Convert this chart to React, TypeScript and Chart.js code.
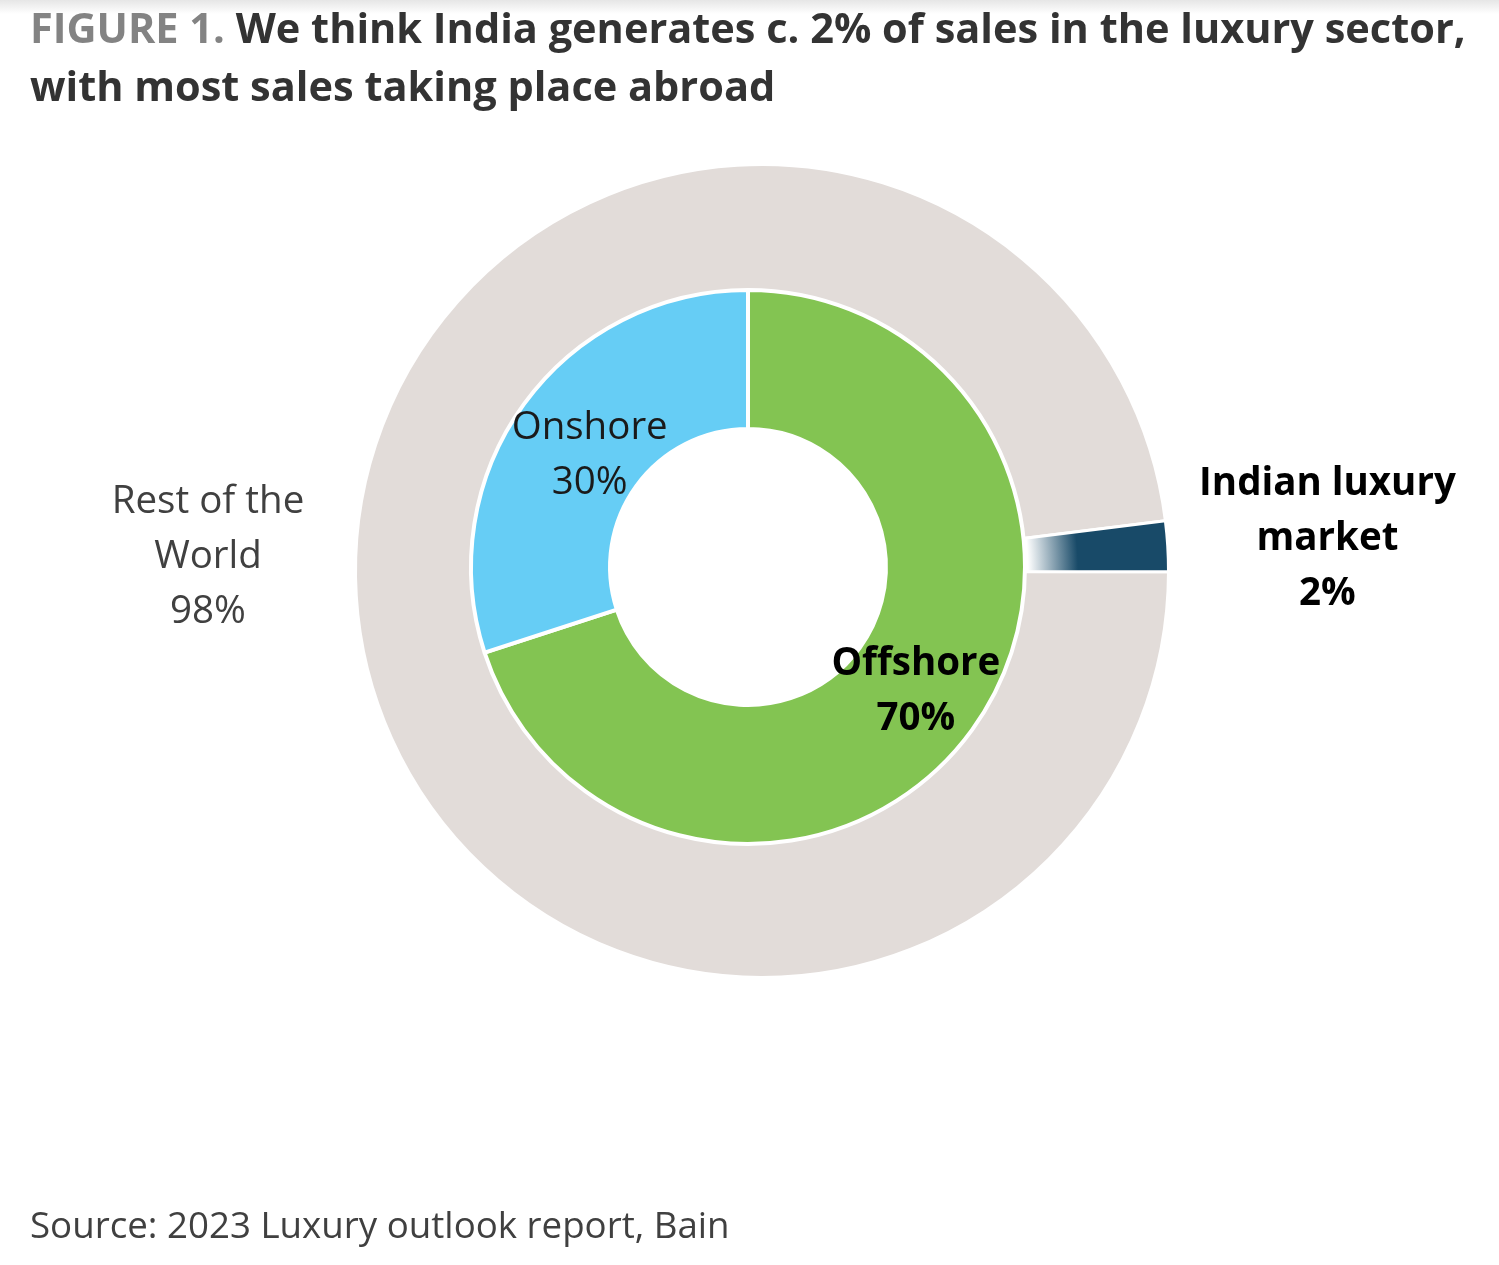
import React, { useEffect, useRef } from 'react';
import { Chart, registerables } from 'chart.js';

Chart.register(...registerables);

// ---------- data ----------
const outerCategories = ['Rest of the World', 'Indian luxury market'];
const outerValues = [98, 2];
const outerLabelLines = [['Rest of the', 'World'], ['Indian luxury', 'market']];
const innerCategories = ['Offshore', 'Onshore'];
const innerValues = [70, 30];

const titleLead = 'FIGURE 1.';
const titleLine1 = 'We think India generates c. 2% of sales in the luxury sector,';
const titleLine2 = 'with most sales taking place abroad';
const sourceText = 'Source: 2023 Luxury outlook report, Bain';

// ---------- styles / layout ----------
const W = 1499;
const H = 1265;
const OUTER_CX = 762;
const OUTER_CY = 571;
const OUTER_R = 406.5;
const OUTER_CUT = '62.7%';
const OUTER_ROT = 90.1;
const INNER_CX = 748;
const INNER_CY = 567;
const INNER_R = 277;
const INNER_CUT = '49.8%';
const outerColors = ['#e2dcd9', '#184a68'];
const innerColors = ['#83c452', '#66cdf5'];
const FONT = '"Open Sans", "Noto Sans", sans-serif';
const LABEL_SIZE = 38.5;
const LABEL_LH = 55;
const CAP = 28;

type LStyle = { weight: string; color: string };
const innerLabelStyle: LStyle[] = [
  { weight: 'bold', color: '#000000' },
  { weight: 'normal', color: '#1a1a1a' },
];
const innerLabelRadial = [1.0, 0.943];
const outerLabelStyle: LStyle[] = [
  { weight: 'normal', color: '#404040' },
  { weight: 'bold', color: '#000000' },
];

function drawLines(ctx: CanvasRenderingContext2D, lines: string[], x: number, y: number, st: LStyle) {
  ctx.save();
  ctx.font = `${st.weight} ${LABEL_SIZE}px ${FONT}`;
  ctx.fillStyle = st.color;
  ctx.textAlign = 'center';
  ctx.textBaseline = 'alphabetic';
  const n = lines.length;
  lines.forEach((t, i) => {
    ctx.fillText(t, x, y + (i - (n - 1) / 2) * LABEL_LH + CAP / 2);
  });
  ctx.restore();
}

function pad(cx: number, cy: number, s: number) {
  return { left: cx - s, right: W - cx - s, top: cy - s, bottom: H - cy - s };
}

const outerLabelPlugin = {
  id: 'outerLabels',
  afterDatasetsDraw(chart: any) {
    const ctx = chart.ctx as CanvasRenderingContext2D;
    const meta = chart.getDatasetMeta(0);
    meta.data.forEach((el: any, i: number) => {
      const p = el.getProps(['x', 'y', 'startAngle', 'endAngle', 'outerRadius'], true);
      const lines = [...outerLabelLines[i], `${outerValues[i]}%`];
      let lx: number;
      let ly: number;
      if (i === 0) {
        lx = p.x - (p.outerRadius - 1.5) - 149;
        ly = p.y - 17;
      } else {
        const mid = (p.startAngle + p.endAngle) / 2;
        const r = p.outerRadius + 160;
        lx = p.x + Math.cos(mid) * r;
        ly = p.y + Math.sin(mid) * r;
      }
      drawLines(ctx, lines, lx, ly, outerLabelStyle[i]);
    });
  },
};

const innerLabelPlugin = {
  id: 'innerLabels',
  afterDatasetsDraw(chart: any) {
    const ctx = chart.ctx as CanvasRenderingContext2D;
    const meta = chart.getDatasetMeta(0);
    meta.data.forEach((el: any, i: number) => {
      const p = el.getProps(['x', 'y', 'startAngle', 'endAngle', 'innerRadius', 'outerRadius'], true);
      const mid = (p.startAngle + p.endAngle) / 2;
      const r = ((p.innerRadius + p.outerRadius) / 2) * innerLabelRadial[i];
      drawLines(ctx, [innerCategories[i], `${innerValues[i]}%`], p.x + Math.cos(mid) * r, p.y + Math.sin(mid) * r, innerLabelStyle[i]);
    });
  },
};

function outerBg(c: any) {
  const i = c.dataIndex;
  if (i === undefined) return outerColors[0];
  if (i !== 1) return outerColors[i];
  const area = c.chart.chartArea;
  if (!area) return outerColors[1];
  const cx = (area.left + area.right) / 2;
  const cy = (area.top + area.bottom) / 2;
  const g = c.chart.ctx.createRadialGradient(cx, cy, 0, cx, cy, OUTER_R);
  g.addColorStop(0, '#ffffff');
  g.addColorStop(266 / OUTER_R, '#ffffff');
  g.addColorStop(316 / OUTER_R, outerColors[1]);
  g.addColorStop(1, outerColors[1]);
  return g;
}

export default function App() {
  const outerRef = useRef<HTMLCanvasElement>(null);
  const innerRef = useRef<HTMLCanvasElement>(null);

  useEffect(() => {
    document.body.style.margin = '0';
    if (!outerRef.current || !innerRef.current) return;
    const outer = new Chart(outerRef.current, {
      type: 'doughnut',
      data: {
        labels: outerCategories,
        datasets: [
          {
            data: outerValues,
            backgroundColor: outerBg as any,
            borderColor: '#ffffff',
            borderWidth: 3,
          },
        ],
      },
      options: {
        responsive: false,
        animation: false,
        rotation: OUTER_ROT,
        cutout: OUTER_CUT,
        radius: OUTER_R,
        layout: { padding: pad(OUTER_CX, OUTER_CY, 420) },
        plugins: { legend: { display: false }, tooltip: { enabled: false }, title: { display: false } },
        events: [],
      } as any,
      plugins: [outerLabelPlugin],
    });
    const inner = new Chart(innerRef.current, {
      type: 'doughnut',
      data: {
        labels: innerCategories,
        datasets: [
          {
            data: innerValues,
            backgroundColor: innerColors,
            borderColor: '#ffffff',
            borderWidth: 4,
          },
        ],
      },
      options: {
        responsive: false,
        animation: false,
        rotation: 0,
        cutout: INNER_CUT,
        radius: INNER_R,
        layout: { padding: pad(INNER_CX, INNER_CY, 290) },
        plugins: { legend: { display: false }, tooltip: { enabled: false }, title: { display: false } },
        events: [],
      } as any,
      plugins: [innerLabelPlugin],
    });
    return () => {
      outer.destroy();
      inner.destroy();
    };
  }, []);

  const canvasStyle: React.CSSProperties = { position: 'absolute', left: 0, top: 0, width: W, height: H };

  return (
    <div style={{ position: 'relative', width: W, height: H, background: '#ffffff', overflow: 'hidden' }}>
      <div
        style={{
          position: 'absolute',
          left: 0,
          top: 0,
          width: W,
          height: 14,
          background: 'linear-gradient(#e6e6e6, #ffffff)',
        }}
      />
      <canvas ref={outerRef} width={W} height={H} style={canvasStyle} />
      <canvas ref={innerRef} width={W} height={H} style={canvasStyle} />
      <div
        style={{
          position: 'absolute',
          left: 30,
          top: -2.4,
          fontFamily: FONT,
          fontWeight: 'bold',
          fontSize: 41.5,
          lineHeight: '58px',
          color: '#333333',
          whiteSpace: 'nowrap',
        }}
      >
        <span style={{ color: '#838383' }}>{titleLead}</span> {titleLine1}
        <br />
        {titleLine2}
      </div>
      <div
        style={{
          position: 'absolute',
          left: 30,
          top: 1204,
          fontFamily: FONT,
          fontSize: 36.7,
          lineHeight: '40px',
          color: '#404040',
          whiteSpace: 'nowrap',
        }}
      >
        {sourceText}
      </div>
    </div>
  );
}
